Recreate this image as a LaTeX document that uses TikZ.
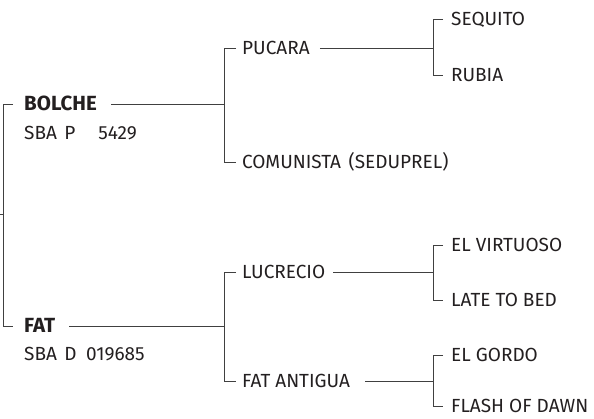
\documentclass[tikz,border=0pt]{standalone}
\usepackage{fontspec}
\setmainfont{Fira Sans}
\definecolor{txt}{HTML}{231F20}
\definecolor{ln}{HTML}{404040}
\begin{document}
\begin{tikzpicture}[x=1pt,y=-1pt,
  lbl/.style={anchor=west,inner sep=0pt,text height=13pt,text depth=0pt,text=txt,font=\fontsize{19}{22}\selectfont},
  bold/.style={font=\fontsize{20.5}{23}\selectfont\bfseries},
  conn/.style={draw=ln,line width=0.9pt}]
\useasboundingbox (0,0) rectangle (594,419);
% level 1
\node[lbl,bold] (bolche) at (24,104) {BOLCHE};
\node[lbl] (sbap) at (24,133) {SBA\hspace{0.4em}P\hspace{1.2em}5429};
\node[lbl,bold] (fat) at (24,326) {FAT};
\node[lbl] (sbad) at (24,354) {SBA\hspace{0.4em}D\hspace{0.5em}019685};
% level 2
\node[lbl] (pucara) at (242,48) {PUCARA};
\node[lbl] (comunista) at (242,162) {COMUNISTA\hspace{0.4em}(SEDUPREL)};
\node[lbl] (lucrecio) at (242,272) {LUCRECIO};
\node[lbl] (fatantigua) at (242,381) {FAT ANTIGUA};
% level 3
\node[lbl] (sequito) at (451,19) {SEQUITO};
\node[lbl] (rubia) at (451,75) {RUBIA};
\node[lbl] (virtuoso) at (451,245) {EL VIRTUOSO};
\node[lbl] (latetobed) at (451,300) {LATE TO BED};
\node[lbl] (gordo) at (451,355) {EL GORDO};
\node[lbl] (flash) at (451,406) {FLASH OF DAWN};
% junctions
\coordinate (root) at (0,214);
\coordinate (rootj) at (3,214);
\coordinate (jb) at (224,104);
\coordinate (jf) at (224,326);
\coordinate (jp) at (433,47);
\coordinate (jl) at (433,272);
\coordinate (ja) at (433,380);
% root bracket
\draw[conn] (root) -- (rootj);
\draw[conn] ([xshift=-11pt]bolche.west) -- ([xshift=-21pt]bolche.west) |- ([xshift=-11pt]fat.west);
% bolche branch
\draw[conn] ([xshift=14pt]bolche.east) -- (bolche.east -| jb);
\draw[conn] ([xshift=-6pt]pucara.west) -- ++(-12,0) |- ([xshift=-6pt]comunista.west);
\draw[conn] ([xshift=10pt]pucara.east) -- (pucara.east -| jp);
\draw[conn] ([xshift=-8pt]sequito.west) -- ++(-10,0) |- ([xshift=-8pt]rubia.west);
% fat branch
\draw[conn] ([xshift=14pt]fat.east) -- (fat.east -| jf);
\draw[conn] ([xshift=-6pt]lucrecio.west) -- ++(-12,0) |- ([xshift=-6pt]fatantigua.west);
\draw[conn] ([xshift=8pt]lucrecio.east) -- (lucrecio.east -| jl);
\draw[conn] ([xshift=-8pt]virtuoso.west) -- ++(-10,0) |- ([xshift=-8pt]latetobed.west);
\draw[conn] ([xshift=15pt]fatantigua.east) -- (fatantigua.east -| ja);
\draw[conn] ([xshift=-8pt]gordo.west) -- ++(-10,0) |- ([xshift=-8pt]flash.west);
\end{tikzpicture}
\end{document}
